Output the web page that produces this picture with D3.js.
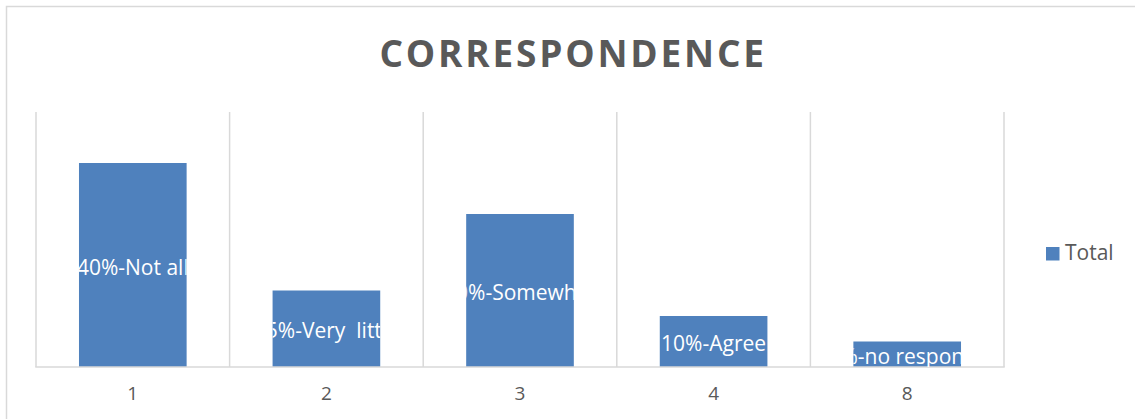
<!DOCTYPE html>
<html>
<head>
<meta charset="utf-8">
<script src="https://cdn.jsdelivr.net/npm/d3@7"></script>
<style>
  html, body { margin: 0; padding: 0; background: #fff; }
  svg { display: block; }
  text { white-space: pre; }
</style>
</head>
<body>
<svg id="chart" width="1135" height="419"></svg>
<script>
const categories = ["1", "2", "3", "4", "8"];
const values = [40, 15, 30, 10, 5];
const labels = ["40%-Not all", "15%-Very  little", "30%-Somewhat", "10%-Agree", "5%-no response"];
const seriesName = "Total";
const chartTitle = "CORRESPONDENCE";

const svg = d3.select("#chart");
const W = 1135, H = 419;
const font = "'Open Sans', 'Noto Sans', sans-serif";

// outer chart border
svg.append("rect")
  .attr("x", 6.5).attr("y", 6.5)
  .attr("width", W + 20).attr("height", H + 20)
  .attr("fill", "none").attr("stroke", "#d9d9d9").attr("stroke-width", 1.5);

const plot = { left: 36, right: 1004, top: 112, bottom: 367 };

const x = d3.scaleBand()
  .domain(categories)
  .range([plot.left, plot.right])
  .paddingInner(0.444)
  .paddingOuter(0.222);

const y = d3.scaleLinear().domain([0, 50]).range([plot.bottom, plot.top]);

// vertical gridlines at band boundaries
const step = x.step();
const bounds = d3.range(categories.length + 1).map(i => plot.left + i * step);
svg.append("g").selectAll("line")
  .data(bounds)
  .join("line")
  .attr("x1", d => d).attr("x2", d => d)
  .attr("y1", plot.top).attr("y2", plot.bottom)
  .attr("stroke", "#d9d9d9").attr("stroke-width", 1.5);

// bars
const defs = svg.append("defs");
const bars = svg.append("g");
categories.forEach((c, i) => {
  const bx = x(c), bw = x.bandwidth(), by = y(values[i]), bh = y(0) - y(values[i]);
  bars.append("rect")
    .attr("x", bx).attr("y", by).attr("width", bw).attr("height", bh)
    .attr("fill", "#4f81bd");
  defs.append("clipPath").attr("id", "clip" + i)
    .append("rect").attr("x", bx).attr("y", by - 20).attr("width", bw).attr("height", bh + 20);
});

// baseline axis
svg.append("line")
  .attr("x1", plot.left - 0.75).attr("x2", plot.right + 0.75)
  .attr("y1", plot.bottom).attr("y2", plot.bottom)
  .attr("stroke", "#d9d9d9").attr("stroke-width", 1.5);

// x axis tick labels
const xAxis = d3.axisBottom(x).tickSize(0).tickPadding(20);
const gx = svg.append("g").attr("transform", `translate(0,${plot.bottom})`).call(xAxis);
gx.select(".domain").remove();
gx.selectAll("text")
  .attr("font-family", font).attr("font-size", "19px").attr("fill", "#595959");

// data labels
const lbl = svg.append("g");
categories.forEach((c, i) => {
  const cy = (y(values[i]) + y(0)) / 2 + 1.5;
  lbl.append("text")
    .attr("clip-path", `url(#clip${i})`)
    .attr("x", x(c) + x.bandwidth() / 2)
    .attr("y", cy)
    .attr("text-anchor", "middle")
    .attr("dominant-baseline", "central")
    .attr("font-family", font).attr("font-size", "21px")
    .attr("fill", "#ffffff")
    .text(labels[i]);
});

// title
const ls = 2.8;
svg.append("text")
  .attr("x", 571.7 + ls / 2).attr("y", 66.5)
  .attr("text-anchor", "middle")
  .attr("font-family", font).attr("font-weight", "bold")
  .attr("font-size", "37px").attr("letter-spacing", ls + "px")
  .attr("fill", "#595959")
  .text(chartTitle);

// legend
const lg = svg.append("g");
lg.append("rect").attr("x", 1046).attr("y", 247).attr("width", 13.5).attr("height", 13.5).attr("fill", "#4f81bd");
lg.append("text").attr("x", 1065).attr("y", 260)
  .attr("font-family", font).attr("font-size", "21px").attr("fill", "#595959")
  .text(seriesName);
</script>
</body>
</html>
